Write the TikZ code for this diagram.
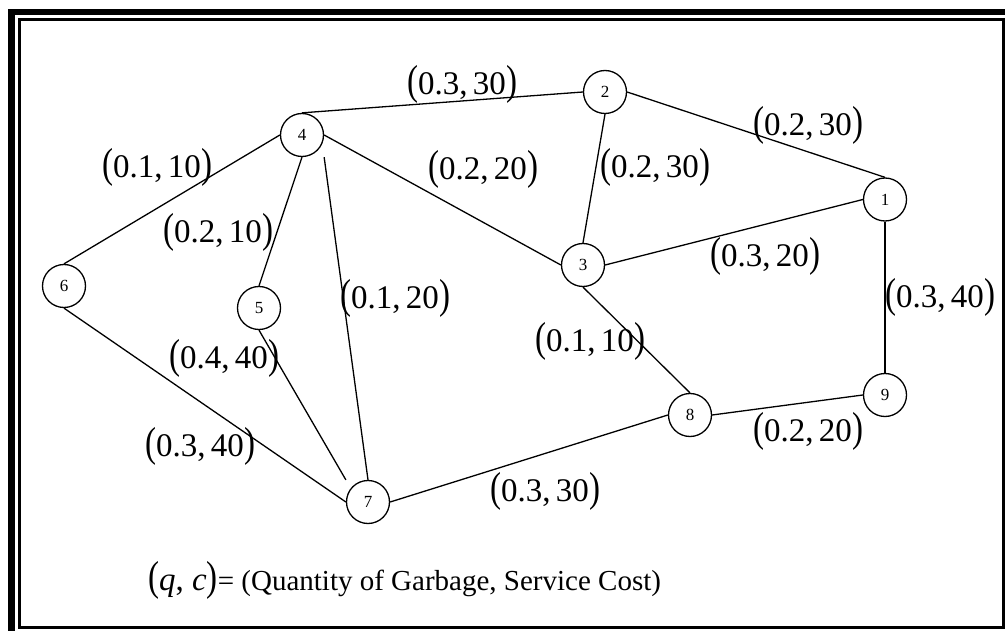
\documentclass[tikz,border=0pt]{standalone}
\usepackage{fontspec}
\setmainfont{Liberation Serif}
\usepackage{graphicx}
\usetikzlibrary{calc, positioning}

\newcommand{\bigpar}[1]{\scalebox{1}[1.27]{#1}}
\newcommand{\qcpair}[2]{\bigpar{(}#1,\,#2\bigpar{)}}

\begin{document}
\begin{tikzpicture}[x=1pt, y=-1pt,
  vertex/.style={circle, draw, line width=1.3pt, minimum size=43pt, inner sep=0pt,
    font=\fontsize{17}{17}\selectfont},
  edge/.style={line width=1.3pt},
  qclabel/.style={inner sep=0pt, font=\fontsize{33}{38}\selectfont}]
\useasboundingbox (0,0) rectangle (1005,631);

% frame
\draw[line width=6.5pt] (11.7,640) -- (11.7,12) -- (1020,12);
\draw[line width=2.7pt] (19.6,19.6) rectangle (1003.4,627.2);

% sites
\node[vertex] (n1) at (885,199.5) {1};
\node[vertex] (n2) at (605,92) {2};
\node[vertex] (n3) at (583,265) {3};
\node[vertex] (n4) at (302,135) {4};
\node[vertex] (n5) at (259,308) {5};
\node[vertex] (n6) at (64,286) {6};
\node[vertex] (n7) at (368,502) {7};
\node[vertex] (n8) at (690,415) {8};
\node[vertex] (n9) at (885,395) {9};

% roads
\draw[edge] (n4.north) -- (n2.west);
\draw[edge] (n2.east) -- (n1.north);
\draw[edge] (n4.west) -- (n6.north);
\draw[edge] (n4.east) -- (n3.west);
\draw[edge] (n2.south) -- (n3.north);
\draw[edge] (n4.south) -- (n5.north);
\draw[edge] (n4.south -| n4.east) -- (n7.north);
\draw[edge] (n3.east) -- (n1.west);
\draw[edge] (n1.south) -- (n9.north);
\draw[edge] (n6.south) -- (n7.west);
\draw[edge] (n5.south) -- (n7.north -| n7.west);
\draw[edge] (n3.south) -- (n8.north);
\draw[edge] (n8.east) -- (n9.west);
\draw[edge] (n7.east) -- (n8.west);

% (q,c) labels
\node[qclabel] (l42) at (462,84) {\qcpair{0.3}{30}};
\node[qclabel] (l21) at (808,125) {\qcpair{0.2}{30}};
\node[qclabel] (l46) at (157,167) {\qcpair{0.1}{10}};
\node[qclabel] (l43) at (483,169) {\qcpair{0.2}{20}};
\node[qclabel] (l23) at (655,167) {\qcpair{0.2}{30}};
\node[qclabel] (l45) at (218,232) {\qcpair{0.2}{10}};
\node[qclabel] (l31) at (765,256) {\qcpair{0.3}{20}};
\node[qclabel] (l47) at (395,298) {\qcpair{0.1}{20}};
\node[qclabel] (l19) at (940,297) {\qcpair{0.3}{40}};
\node[qclabel] (l57) at (224,358) {\qcpair{0.4}{40}};
\node[qclabel] (l38) at (590,341) {\qcpair{0.1}{10}};
\node[qclabel] (l89) at (808,431) {\qcpair{0.2}{20}};
\node[qclabel] (l67) at (200,446) {\qcpair{0.3}{40}};
\node[qclabel] (l78) at (545,491) {\qcpair{0.3}{30}};

% legend
\node[qclabel, anchor=base west] (key) at (148,590)
  {\bigpar{(}\textit{q}, \textit{c}\bigpar{)}\fontsize{29}{34}\selectfont= (Quantity of Garbage, Service Cost)};
\end{tikzpicture}
\end{document}
